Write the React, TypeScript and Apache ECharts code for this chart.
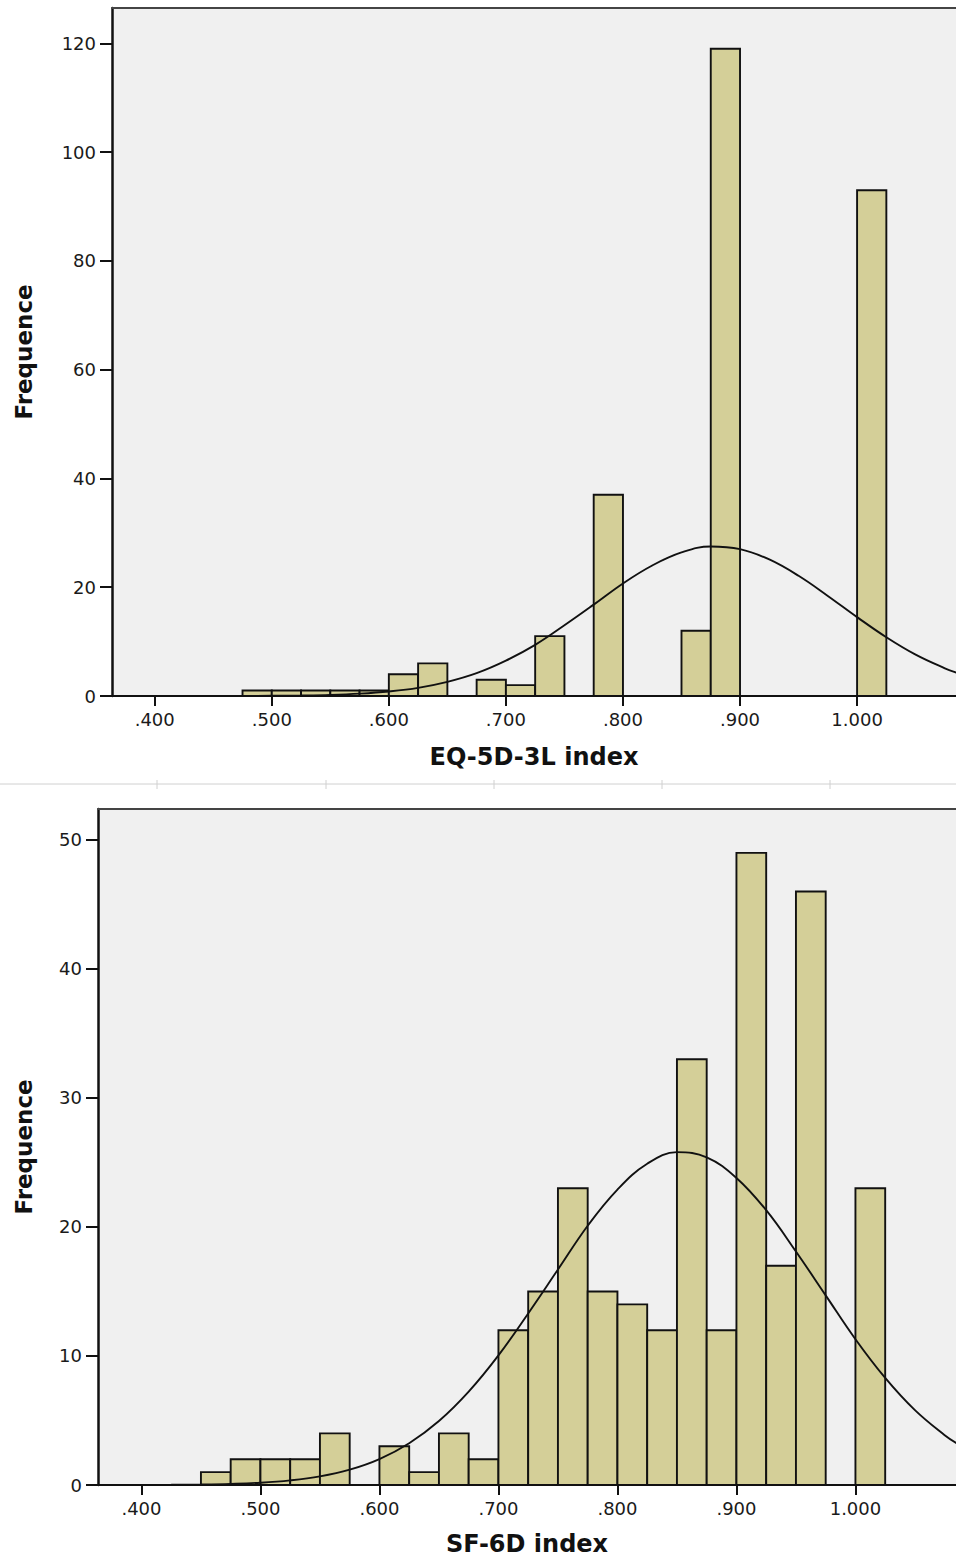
import React, { useEffect, useRef } from "react";
import * as echarts from "echarts";

// ---- data ----
const BIN = 0.025;
const X_MIN = 0.3635;
const X_MAX = 1.0845;
const xTickValues = [0.4, 0.5, 0.6, 0.7, 0.8, 0.9, 1.0];

const eqBinStarts = [0.475, 0.5, 0.525, 0.55, 0.575, 0.6, 0.625, 0.65, 0.675, 0.7, 0.725, 0.75, 0.775, 0.8, 0.825, 0.85, 0.875, 0.9, 0.925, 0.95, 0.975, 1.0];
const eqCounts = [1, 1, 1, 1, 1, 4, 6, 0, 3, 2, 11, 0, 37, 0, 0, 12, 119, 0, 0, 0, 0, 93];
const eqYTicks = [0, 20, 40, 60, 80, 100, 120];
const eqYMax = 126.5;

const sfBinStarts = [0.45, 0.475, 0.5, 0.525, 0.55, 0.575, 0.6, 0.625, 0.65, 0.675, 0.7, 0.725, 0.75, 0.775, 0.8, 0.825, 0.85, 0.875, 0.9, 0.925, 0.95, 0.975, 1.0];
const sfCounts = [1, 2, 2, 2, 4, 0, 3, 1, 4, 2, 12, 15, 23, 15, 14, 12, 33, 12, 49, 17, 46, 0, 23];
const sfYTicks = [0, 10, 20, 30, 40, 50];
const sfYMax = 52.4;

// normal curve
const curveX = [0.365, 0.4, 0.425, 0.45, 0.475, 0.5, 0.525, 0.55, 0.575, 0.6, 0.625, 0.65, 0.675, 0.7, 0.725, 0.75, 0.775, 0.8, 0.825, 0.85, 0.875, 0.9, 0.925, 0.95, 0.975, 1.0, 1.025, 1.05, 1.075, 1.085];
const eqCurveY = [0, 0, 0.003, 0.007, 0.018, 0.045, 0.1, 0.21, 0.44, 0.84, 1.5, 2.6, 4.2, 6.5, 9.4, 13.0, 16.8, 20.7, 24.0, 26.4, 27.5, 27.0, 25.1, 22.1, 18.4, 14.5, 10.8, 7.6, 5.1, 4.3];
const sfCurveY = [0, 0.008, 0.018, 0.042, 0.09, 0.18, 0.36, 0.67, 1.19, 2.01, 3.24, 4.96, 7.24, 10.05, 13.3, 16.7, 20.1, 22.9, 24.9, 25.8, 25.4, 23.8, 21.3, 18.1, 14.7, 11.3, 8.3, 5.8, 3.86, 3.24];

const eqTitle = "EQ-5D-3L index";
const sfTitle = "SF-6D index";
const yTitle = "Frequence";

// ---- styles ----
const BAR_FILL = "#d4cf98";
const BAR_STROKE = "#111111";
const PLOT_BG = "#f0f0f0";
const LABEL_FONT = "DejaVu Sans";

function fmtX(v: number) {
  const s = v.toFixed(3);
  return s.startsWith("0") ? s.slice(1) : s;
}

function renderBar(params: any, api: any) {
  const start = api.value(0);
  const count = api.value(1);
  if (!count) return { type: "group", children: [] };
  const p0 = api.coord([start, count]);
  const p1 = api.coord([start + BIN, 0]);
  return {
    type: "rect",
    shape: { x: p0[0], y: p0[1], width: p1[0] - p0[0], height: p1[1] - p0[1] },
    style: { fill: BAR_FILL, stroke: BAR_STROKE, lineWidth: 1.9 },
  };
}

function bottomXAxis(gridIndex: number, name: string, nameGap: number) {
  return {
    type: "value",
    gridIndex,
    min: X_MIN,
    max: X_MAX,
    position: "bottom",
    name,
    nameLocation: "middle",
    nameGap,
    nameTextStyle: { fontFamily: LABEL_FONT, fontWeight: "bold", fontSize: 24, color: "#111" },
    axisLine: { show: true, onZero: false, lineStyle: { color: "#111", width: 2.2 } },
    axisTick: { show: true, inside: false, length: 10, customValues: xTickValues, lineStyle: { color: "#111", width: 2 } },
    axisLabel: {
      show: true,
      margin: 14,
      customValues: xTickValues,
      formatter: (v: number) => fmtX(v),
      fontFamily: LABEL_FONT,
      fontSize: 18,
      color: "#1a1a1a",
    },
    splitLine: { show: false },
  };
}

function topFrameAxis(gridIndex: number) {
  return {
    type: "value",
    gridIndex,
    min: X_MIN,
    max: X_MAX,
    position: "top",
    axisLine: { show: true, onZero: false, lineStyle: { color: "#444", width: 2 } },
    axisTick: { show: false },
    axisLabel: { show: false },
    splitLine: { show: false },
  };
}

function leftYAxis(gridIndex: number, max: number, ticks: number[], nameGap: number) {
  return {
    type: "value",
    gridIndex,
    min: 0,
    max,
    name: yTitle,
    nameLocation: "middle",
    nameGap,
    nameRotate: 90,
    nameTextStyle: { fontFamily: LABEL_FONT, fontWeight: "bold", fontSize: 23, color: "#111" },
    axisLine: { show: true, onZero: false, lineStyle: { color: "#111", width: 2.5 } },
    axisTick: { show: true, inside: false, length: 12, customValues: ticks, lineStyle: { color: "#111", width: 2 } },
    axisLabel: {
      show: true,
      margin: 16,
      customValues: ticks,
      fontFamily: LABEL_FONT,
      fontSize: 18,
      color: "#1a1a1a",
    },
    splitLine: { show: false },
  };
}

export default function App() {
  const ref = useRef<HTMLDivElement>(null);

  useEffect(() => {
    if (!ref.current) return;
    const chart = echarts.init(ref.current, undefined, { renderer: "svg" });

    const sepTicks = [157, 326, 494, 662, 830];
    const graphic: any[] = [
      { type: "line", shape: { x1: 0, y1: 784, x2: 956, y2: 784 }, style: { stroke: "#d0d0d0", lineWidth: 1 } },
      ...sepTicks.map((x) => ({
        type: "line",
        shape: { x1: x, y1: 780, x2: x, y2: 789 },
        style: { stroke: "#d0d0d0", lineWidth: 1 },
      })),
    ];

    chart.setOption({
      animation: false,
      backgroundColor: "#ffffff",
      graphic,
      grid: [
        { left: 112, right: 0, top: 8, height: 688, show: true, backgroundColor: PLOT_BG, borderWidth: 0 },
        { left: 98, right: 0, top: 809, height: 676, show: true, backgroundColor: PLOT_BG, borderWidth: 0 },
      ],
      xAxis: [
        bottomXAxis(0, eqTitle, 49),
        topFrameAxis(0),
        bottomXAxis(1, sfTitle, 47),
        topFrameAxis(1),
      ],
      yAxis: [
        leftYAxis(0, eqYMax, eqYTicks, 77),
        leftYAxis(1, sfYMax, sfYTicks, 63),
      ],
      series: [
        {
          type: "custom",
          xAxisIndex: 0,
          yAxisIndex: 0,
          renderItem: renderBar,
          encode: { x: 0, y: 1 },
          data: eqBinStarts.map((s, i) => [s, eqCounts[i]]),
          z: 2,
        },
        {
          type: "line",
          xAxisIndex: 0,
          yAxisIndex: 0,
          data: curveX.map((x, i) => [x, eqCurveY[i]]),
          smooth: 0.4,
          symbol: "none",
          lineStyle: { color: "#111", width: 1.9 },
          z: 3,
        },
        {
          type: "custom",
          xAxisIndex: 2,
          yAxisIndex: 1,
          renderItem: renderBar,
          encode: { x: 0, y: 1 },
          data: sfBinStarts.map((s, i) => [s, sfCounts[i]]),
          z: 2,
        },
        {
          type: "line",
          xAxisIndex: 2,
          yAxisIndex: 1,
          data: curveX.map((x, i) => [x, sfCurveY[i]]),
          smooth: 0.4,
          symbol: "none",
          lineStyle: { color: "#111", width: 1.9 },
          z: 3,
        },
      ],
    });

    return () => chart.dispose();
  }, []);

  return (
    <div
      ref={ref}
      style={{ position: "absolute", left: 0, top: 0, width: 956, height: 1560 }}
    />
  );
}
